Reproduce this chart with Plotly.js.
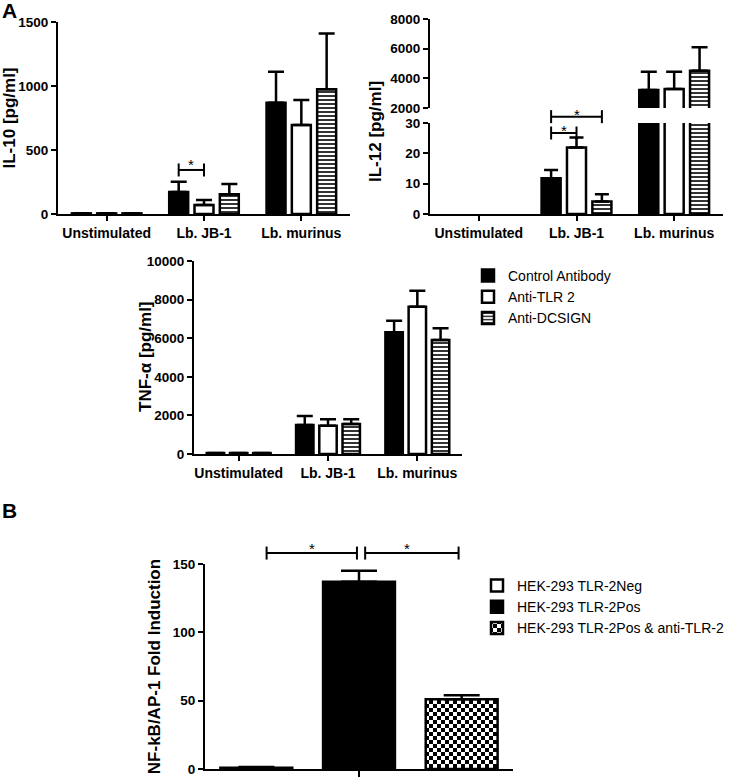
<!DOCTYPE html>
<html><head><meta charset="utf-8">
<script src="https://cdn.plot.ly/plotly-3.0.1.min.js"></script>
<style>body{margin:0;padding:0;background:#fff}</style>
</head><body><div id="chart" style="width:733px;height:777px"></div>
<script>
// ---------------- data ----------------
const categories = ["Unstimulated", "Lb. JB-1", "Lb. murinus"];
const seriesNames = ["Control Antibody", "Anti-TLR 2", "Anti-DCSIGN"];

const il10Control = [5, 172, 870];
const il10ControlErr = [0, 80, 242];
const il10AntiTLR2 = [5, 70, 695];
const il10AntiTLR2Err = [0, 39, 195];
const il10AntiDCSIGN = [5, 154, 974];
const il10AntiDCSIGNErr = [0, 80, 437];

const il12Control = [0, 11.8, 3213];
const il12ControlErr = [0, 2.7, 1234];
const il12AntiTLR2 = [0, 21.9, 3281];
const il12AntiTLR2Err = [0, 3.3, 1166];
const il12AntiDCSIGN = [0, 4.1, 4514];
const il12AntiDCSIGNErr = [0, 2.4, 1577];

const tnfControl = [50, 1503, 6303];
const tnfControlErr = [0, 466, 605];
const tnfAntiTLR2 = [50, 1467, 7634];
const tnfAntiTLR2Err = [0, 329, 829];
const tnfAntiDCSIGN = [50, 1554, 5907];
const tnfAntiDCSIGNErr = [0, 242, 604];

const hekNames = ["HEK-293 TLR-2Neg", "HEK-293 TLR-2Pos", "HEK-293 TLR-2Pos & anti-TLR-2"];
const hekValues = [1, 137, 51];
const hekErrors = [0.5, 8, 3];

// ---------------- styling ----------------
const W = 733, H = 777;
const FONT = "Liberation Sans, Arial, sans-serif";
const xd = (l, r) => [l / W, r / W];
const yd = (top, bottom) => [1 - bottom / H, 1 - top / H];
const LW = 2.5;
const CHECKER_FG = '#010101';

const seriesStyles = [
  {color: '#000000'},
  {color: '#ffffff'},
  {color: '#ffffff', pattern: {shape: '-', fgcolor: '#000000', bgcolor: '#ffffff', size: 4, solidity: 0.4}}
];
const hekStyles = [
  {color: '#ffffff'},
  {color: '#000000'},
  {color: '#ffffff', pattern: {shape: 'x', fgcolor: CHECKER_FG, bgcolor: '#ffffff', size: 6, solidity: 0.4}}
];

const traces = [];
function addGroup(vals, errs, xa, ya, showLeg, capW) {
  for (let i = 0; i < 3; i++) {
    const marker = Object.assign({}, seriesStyles[i],
      {line: {color: '#000000', width: vals[i].map(v => (v > 0 ? LW : 0))}});
    // no bar drawn where the value is zero: no error bar either
    const plus = errs[i].map((e, j) => (vals[i][j] > 0 ? e : NaN));
    const minus = errs[i].map((e, j) => (vals[i][j] > 0 ? 0 : NaN));
    traces.push({
      type: 'bar', name: seriesNames[i], x: categories, y: vals[i],
      xaxis: xa, yaxis: ya, marker: marker,
      error_y: {type: 'data', symmetric: false, array: plus, arrayminus: minus,
                color: '#000000', thickness: 2.5, width: capW},
      showlegend: showLeg, legend: 'legend', hoverinfo: 'skip'
    });
  }
}
addGroup([il10Control, il10AntiTLR2, il10AntiDCSIGN],
         [il10ControlErr, il10AntiTLR2Err, il10AntiDCSIGNErr], 'x', 'y', true, 8);
addGroup([il12Control, il12AntiTLR2, il12AntiDCSIGN],
         [il12ControlErr, il12AntiTLR2Err, il12AntiDCSIGNErr], 'x2', 'y2', false, 7);
addGroup([il12Control, il12AntiTLR2, il12AntiDCSIGN],
         [il12ControlErr, il12AntiTLR2Err, il12AntiDCSIGNErr], 'x2', 'y3', false, 8);
addGroup([tnfControl, tnfAntiTLR2, tnfAntiDCSIGN],
         [tnfControlErr, tnfAntiTLR2Err, tnfAntiDCSIGNErr], 'x4', 'y4', false, 8);

for (let i = 0; i < 3; i++) {
  traces.push({
    type: 'bar', name: hekNames[i], x: [hekNames[i]], y: [hekValues[i]],
    xaxis: 'x5', yaxis: 'y5',
    marker: Object.assign({}, hekStyles[i], {line: {color: '#000000', width: LW}}),
    width: [0.7], offset: [-0.35],
    error_y: {type: 'data', symmetric: false, array: [hekErrors[i]], arrayminus: [0],
              color: '#000000', thickness: 2.5, width: 18},
    showlegend: true, legend: 'legend2', hoverinfo: 'skip'
  });
}

const numFont = {family: FONT, size: 13.5, weight: 'bold', color: '#000000'};
const catFont = {family: FONT, size: 14, weight: 'bold', color: '#000000'};
const titleFont = {family: FONT, size: 17, weight: 'bold', color: '#000000'};
const axBase = {
  showline: true, linewidth: 2, linecolor: '#000000', showgrid: false, zeroline: false,
  ticks: 'outside', ticklen: 5, tickwidth: 2, tickcolor: '#000000',
  automargin: false, fixedrange: true
};
function xCat(domain, anchor, cats) {
  return Object.assign({}, axBase, {domain: domain, anchor: anchor, type: 'category',
    categoryorder: 'array', categoryarray: cats, range: [-0.5, 2.5], tickfont: catFont});
}
function yLin(domain, anchor, range, dtick, title, standoff) {
  const a = Object.assign({}, axBase, {domain: domain, anchor: anchor, range: range,
    dtick: dtick, tick0: range[0], tickfont: numFont, tickformat: 'd'});
  if (title) a.title = {text: title, font: titleFont, standoff: standoff};
  return a;
}

// brackets (significance markers) in axis-domain fractions
const shapes = [], annotations = [];
function bracket(xa, ya, yRange, x0, x1, yv, starShift) {
  const fx = v => (v + 0.5) / 3;
  const fy = (yv - yRange[0]) / (yRange[1] - yRange[0]);
  const common = {type: 'line', xref: xa + ' domain', yref: ya + ' domain', line: {color: '#000000', width: 2}};
  shapes.push(Object.assign({}, common, {x0: fx(x0), x1: fx(x1), y0: fy, y1: fy}));
  [x0, x1].forEach(xv => shapes.push(Object.assign({}, common, {
    x0: fx(xv), x1: fx(xv), ysizemode: 'pixel', yanchor: fy, y0: -6.5, y1: 6.5})));
  annotations.push({xref: xa + ' domain', yref: ya + ' domain', x: fx((x0 + x1) / 2), y: fy,
    text: '*', showarrow: false, yanchor: 'middle', yshift: starShift,
    font: {family: FONT, size: 15, color: '#000000'}});
}
bracket('x', 'y', [0, 1500], 0.74, 1.0, 344, 5);
bracket('x2', 'y2', [0, 30], 0.74, 1.0, 26.7, 3);
bracket('x2', 'y2', [0, 30], 0.74, 1.26, 32.1, 2);
bracket('x5', 'y5', [0, 150], 0.1, 0.98, 158, 5);
bracket('x5', 'y5', [0, 150], 1.06, 1.97, 158, 5);

annotations.push({xref: 'paper', yref: 'paper', x: 0, y: 1, xanchor: 'left', yanchor: 'top',
  text: 'A', showarrow: false, yshift: 3, font: {family: FONT, size: 21, weight: 'bold', color: '#000000'}});
annotations.push({xref: 'paper', yref: 'paper', x: 0, y: 1 - 497 / H, xanchor: 'left', yanchor: 'top',
  text: 'B', showarrow: false, font: {family: FONT, size: 21, weight: 'bold', color: '#000000'}});
annotations.push({xref: 'paper', yref: 'paper', x: 375 / W, y: 1 - 132 / H, xanchor: 'center', yanchor: 'middle',
  text: 'IL-12 [pg/ml]', textangle: -90, showarrow: false, font: titleFont});
annotations.push({xref: 'paper', yref: 'paper', x: 145 / W, y: 1 - 357 / H, xanchor: 'center', yanchor: 'middle',
  text: 'TNF-α [pg/ml]', textangle: -90, showarrow: false, font: titleFont});

const layout = {
  width: W, height: H, autosize: false,
  margin: {l: 0, r: 0, t: 0, b: 0},
  paper_bgcolor: '#ffffff', plot_bgcolor: 'rgba(0,0,0,0)',
  font: {family: FONT, color: '#000000'},
  barmode: 'group', bargap: 0.22, bargroupgap: 0.25,
  xaxis: xCat(xd(58, 350), 'y', categories),
  yaxis: yLin(yd(22, 214), 'x', [0, 1500], 500, 'IL-10 [pg/ml]', 7),
  xaxis2: xCat(xd(430, 723), 'y2', categories),
  yaxis2: yLin(yd(123, 214), 'x2', [0, 30], 10),
  yaxis3: yLin(yd(19, 108), 'x2', [2000, 8000], 2000),
  xaxis4: xCat(xd(194, 462), 'y4', categories),
  yaxis4: yLin(yd(261, 454), 'x4', [0, 10000], 2000),
  xaxis5: Object.assign(xCat(xd(205, 513), 'y5', hekNames), {tickvals: [hekNames[1]], ticktext: [''], ticklen: 6}),
  yaxis5: yLin(yd(564, 769), 'x5', [0, 150], 50, 'NF-kB/AP-1 Fold Induction', 8),
  legend: {x: 468 / W, y: 1 - 260 / H, xanchor: 'left', yanchor: 'top', bgcolor: 'rgba(0,0,0,0)',
           borderwidth: 0, traceorder: 'normal', font: {family: FONT, size: 14, color: '#000000'}},
  legend2: {x: 477 / W, y: 1 - 570 / H, xanchor: 'left', yanchor: 'top', bgcolor: 'rgba(0,0,0,0)',
            borderwidth: 0, traceorder: 'normal', font: {family: FONT, size: 14, color: '#000000'}},
  shapes: shapes, annotations: annotations, showlegend: true
};

Plotly.newPlot('chart', traces, layout, {displayModeBar: false, staticPlot: true}).then(() => {
  // turn the checker trace's pattern tile into a true checkerboard
  document.querySelectorAll('pattern').forEach(p => {
    const html = p.innerHTML.toLowerCase();
    if (html.indexOf('rgb(1, 1, 1)') >= 0 || html.indexOf('#010101') >= 0) {
      p.removeAttribute('patternTransform');
      p.setAttribute('width', '8');
      p.setAttribute('height', '8');
      p.innerHTML = '<rect x="0" y="0" width="8" height="8" fill="#ffffff"></rect>' +
        '<rect x="0" y="0" width="4" height="4" fill="#000000"></rect>' +
        '<rect x="4" y="4" width="4" height="4" fill="#000000"></rect>';
    }
  });
});
</script>
</body></html>
